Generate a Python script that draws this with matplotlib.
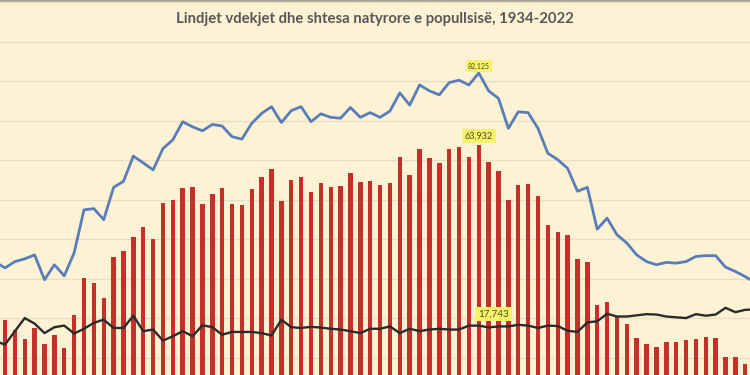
import matplotlib.pyplot as plt

# vitet e dukshme ne figure (1941-2018)
vitet = list(range(1941, 2019))

# lindjet
lindjet = [34300,
           32800, 34400, 35100, 36100, 29800, 33600, 30800, 36600, 47500, 47800,
           45000, 53200, 54700, 61100, 59400, 57600, 63000, 65200, 69800, 68500,
           67500, 69100, 68700, 66000, 65400, 69400, 71900, 73600, 69600, 72600,
           73600, 69800, 71800, 70900, 70700, 73400, 70900, 72100, 70900, 72500,
           77100, 74000, 79100, 77600, 76600, 79700, 80300, 79100, 82125, 77600,
           75700, 68100, 72300, 72100, 68100, 61800, 60200, 58000, 52200, 53200,
           42600, 45400, 41200, 39100, 36100, 34400, 33600, 34200, 34000, 34400,
           35700, 35900, 35900, 33000, 31900, 30600,
           29100]

# vdekjet
vdekjet = [14300,
           13400, 16800, 20100, 18700, 16300, 17800, 18200, 16200, 17400, 18900,
           19700, 17600, 17600, 20700, 16800, 17200, 14400, 15500, 16800, 15500,
           18300, 17800, 15900, 16600, 16600, 16600, 16300, 15700, 19700, 17800,
           17600, 17900, 17700, 17400, 17200, 16800, 16300, 17400, 17400, 18000,
           16300, 17400, 16800, 17200, 17400, 17200, 17200, 18200, 18193, 17743,
           18000, 18000, 18400, 18200, 17600, 18200, 18100, 16900, 16600, 19000,
           19300, 21200, 20500, 20500, 20800, 21100, 21000, 20500, 20300, 20100,
           21100, 20700, 21000, 22700, 21600, 22200,
           22300]

# shtesa natyrore
shtesa = [20000,
          19500, 17200, 14800, 17600, 13600, 15900, 12500, 21000, 30200, 29000,
          25100, 35500, 37200, 40600, 43100, 40100, 49200, 50000, 53000, 53200,
          48900, 51500, 53000, 49000, 48700, 52700, 55800, 57900, 49700, 55100,
          55900, 51900, 54200, 53400, 53600, 56900, 54500, 54700, 53800, 54200,
          60800, 56300, 62800, 60600, 59300, 62800, 63400, 60800, 63932, 59700,
          57400, 50000, 53800, 54100, 50900, 43700, 42000, 41200, 35000, 34200,
          23500, 24200, 20300, 18600, 15100, 13600, 12800, 14000, 14100, 14500,
          14700, 15300, 15100, 10300, 10300, 8600,
          6800]

fons = '#FDF3D4'
fig = plt.figure(figsize=(7.5, 3.75), dpi=100)
fig.patch.set_facecolor(fons)
ax = fig.add_axes([0, 0, 1, 1])
ax.set_facecolor(fons)

ax.bar(vitet, shtesa, width=0.45, color='#C5312A', zorder=2)
ax.plot(vitet, lindjet, color='#5A7DBA', lw=2.0, zorder=3)
ax.plot(vitet, vdekjet, color='#2A2A2A', lw=1.7, zorder=3)

ax.set_xlim(1941.49, 2017.48)
ax.set_ylim(5700, 100600)
ax.set_yticks(range(10000, 100001, 10000))
ax.grid(axis='y', color='#E9DFC3', lw=1)
ax.set_axisbelow(True)
ax.tick_params(left=False, bottom=False, labelleft=False, labelbottom=False)
for s in ['left', 'right', 'bottom']:
    ax.spines[s].set_visible(False)
ax.spines['top'].set_color('#A9A498')
ax.spines['top'].set_linewidth(2)

# etiketat e verdha
def etikete(i, seria, dx, dy, size):
    ax.annotate(f'{seria[i]:,}', xy=(vitet[i], seria[i]), xytext=(dx, dy),
                textcoords='offset points', ha='center', va='center',
                fontsize=size, color='#4B4B2E', family='Lato', zorder=5,
                bbox=dict(boxstyle='square,pad=0.3', fc='#F6F36A', ec='none'))

imax = lindjet.index(max(lindjet))
etikete(imax, lindjet, 0, 5, 5)
etikete(shtesa.index(max(shtesa)), shtesa, 0, 6.5, 6.5)
etikete(imax + 1, vdekjet, 3.6, 9.7, 7)

fig.text(0.5, 0.949, 'Lindjet vdekjet dhe shtesa natyrore e popullsisë, 1934-2022',
         ha='center', va='center', fontsize=10.7, fontweight='bold',
         color='#575757', family='Lato')

fig.savefig('out.png', dpi=100, facecolor=fons)
